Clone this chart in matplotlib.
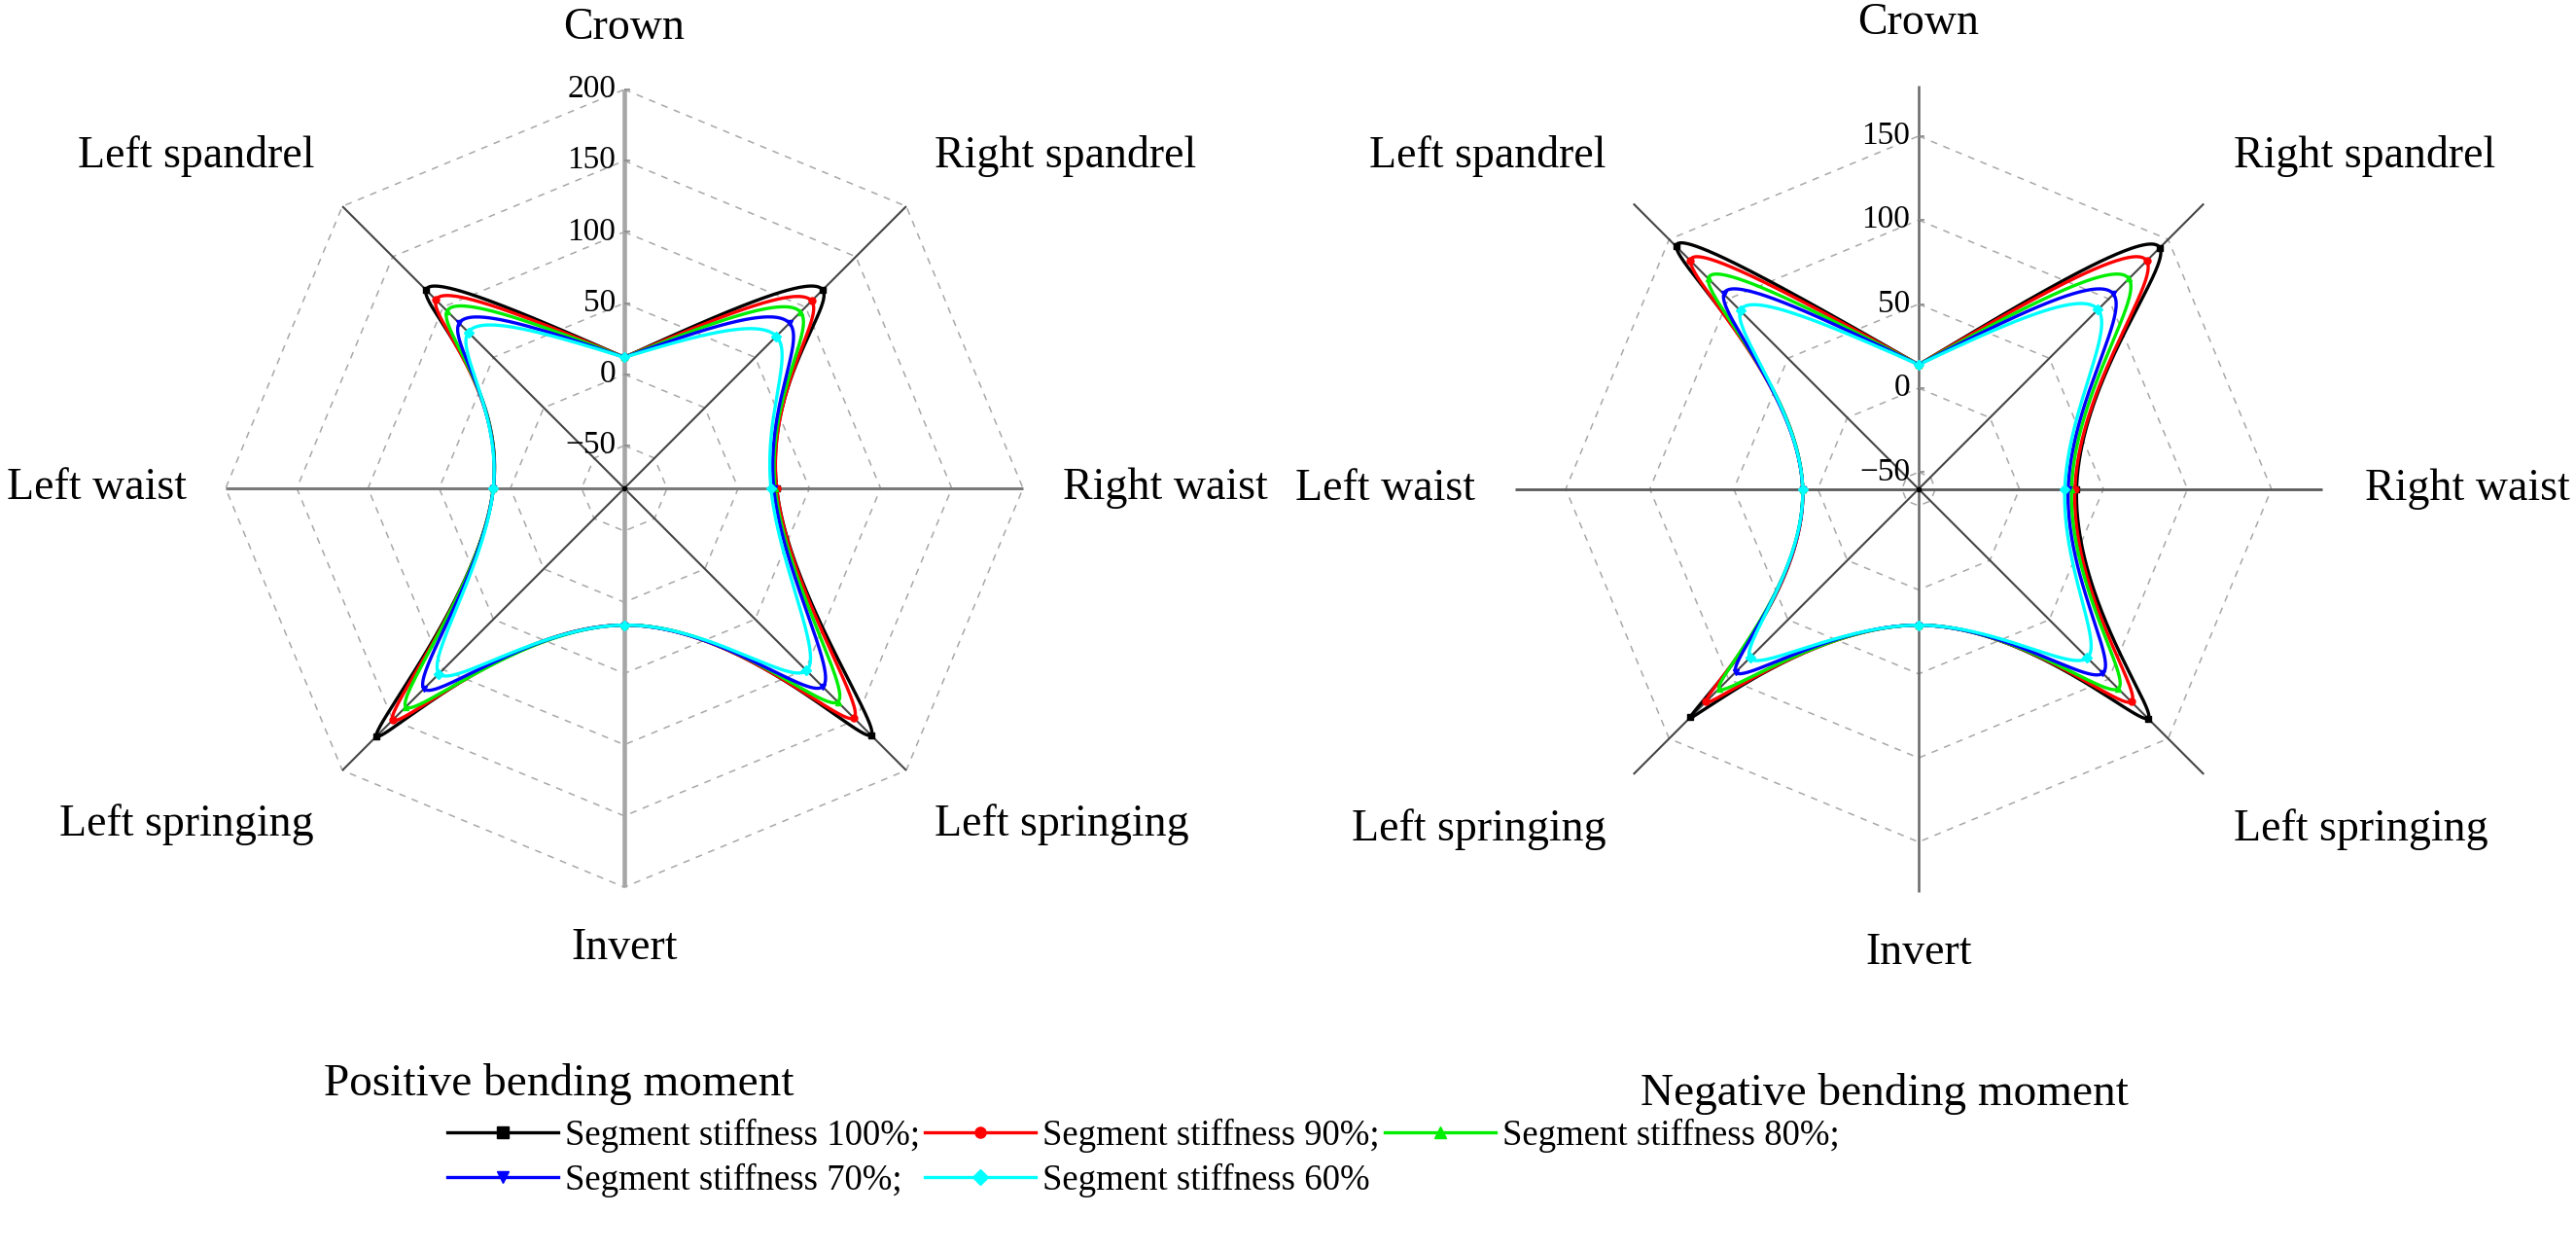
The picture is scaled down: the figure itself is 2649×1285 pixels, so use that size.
import numpy as np
import matplotlib
matplotlib.use("Agg")
import matplotlib.pyplot as plt
from matplotlib.lines import Line2D
from matplotlib.transforms import ScaledTranslation

plt.rcParams['font.family'] = ['Liberation Serif', 'DejaVu Serif']

# ---------------- data ----------------
categories = ["Crown", "Right spandrel", "Right waist", "Left springing",
              "Invert", "Left springing", "Left waist", "Left spandrel"]
angles_deg = [90, 45, 0, -45, -90, -135, 180, 135]

series_labels = ["Segment stiffness 100%;", "Segment stiffness 90%;",
                 "Segment stiffness 80%;", "Segment stiffness 70%;",
                 "Segment stiffness 60%"]
series_colors = ["#000000", "#ff0000", "#00ee00", "#0000ff", "#00ffff"]
series_markers = ["s", "o", "^", "v", "D"]

# Positive bending moment (order follows categories)
pos_100 = [12, 117, 27, 165, 16, 166, 12, 117]
pos_90 = [12, 106, 27, 148, 16, 150, 12, 107]
pos_80 = [12, 95, 26, 132, 16, 137, 12, 96]
pos_70 = [12, 84, 25, 117, 16, 119, 12, 84]
pos_60 = [12, 71, 23, 101, 16, 104, 12, 75]

# Negative bending moment
neg_100 = [14, 143, 34, 133, 21, 132, 9, 144]
neg_90 = [14, 132, 33, 119, 21, 119, 9, 132]
neg_80 = [14, 117, 31, 108, 21, 108, 9, 117]
neg_70 = [14, 104, 29, 95, 21, 94, 9, 104]
neg_60 = [14, 91, 27, 82, 21, 82, 9, 90]

pos_ticks = [-50, 0, 50, 100, 150, 200]
neg_ticks = [-50, 0, 50, 100, 150]
pos_lim = (-80, 200)
neg_lim = (-60, 180)

titles = ["Positive bending moment", "Negative bending moment"]


# ---------------- helpers ----------------
def natural_spline(vals, n_per=80):
    vals = np.asarray(vals, float)
    n = len(vals) - 1
    A = np.zeros((n + 1, n + 1))
    b = np.zeros(n + 1)
    A[0, 0] = 1
    A[n, n] = 1
    for i in range(1, n):
        A[i, i - 1] = 1
        A[i, i] = 4
        A[i, i + 1] = 1
        b[i] = 6 * (vals[i + 1] - 2 * vals[i] + vals[i - 1])
    M = np.linalg.solve(A, b)
    out = []
    for i in range(n):
        s = np.linspace(0, 1, n_per, endpoint=(i == n - 1))
        y = ((1 - s) * vals[i] + s * vals[i + 1]
             + ((1 - s) ** 3 - (1 - s)) * M[i] / 6 + (s ** 3 - s) * M[i + 1] / 6)
        out.append(y)
    return np.concatenate(out)


def smooth_polar(values, rmin):
    th = np.deg2rad(angles_deg + [angles_deg[0]])
    rr = np.asarray(values + [values[0]], float) - rmin
    x = rr * np.cos(th)
    y = rr * np.sin(th)
    xs = natural_spline(x)
    ys = natural_spline(y)
    return np.arctan2(ys, xs), np.hypot(xs, ys) + rmin


def draw_radar(ax, data, lim, ticks, axis_styles, label_pos, title, title_xy):
    rmin, rmax = lim
    ax.set_rlim(rmin, rmax)
    ax.grid(False)
    ax.set_xticks([])
    ax.set_yticks([])
    ax.spines['polar'].set_visible(False)
    ax.patch.set_visible(False)

    th = np.deg2rad(angles_deg)
    # dashed octagon grid
    for lv in ticks:
        ax.plot(np.append(th, th[0]), [lv] * (len(th) + 1), color="#a8a8a8",
                lw=1.1, dashes=(4.5, 4.5), zorder=1, clip_on=False)
    # spokes
    for k, t in enumerate(th):
        col, lw = axis_styles[k]
        ax.plot([t, t], [rmin, rmax], color=col, lw=lw, zorder=2,
                solid_capstyle='butt', clip_on=False)
    ax.plot([0], [rmin], 'o', color='k', ms=3, zorder=3)

    # radial ticks and labels along crown axis
    off = ScaledTranslation(-9 / 100, 0, ax.figure.dpi_scale_trans)
    for v in ticks:
        ax.plot([np.pi / 2], [v], marker=1, color="#888888", ms=4, mew=1.2,
                zorder=3, clip_on=False)
        ax.text(np.pi / 2, v, str(v).replace('-', '\u2212'), ha='right',
                va='center', fontsize=24, transform=ax.transData + off,
                zorder=4)

    # series
    for vals, col, mk in zip(data, series_colors, series_markers):
        tt, rr = smooth_polar(vals, rmin)
        ax.plot(tt, rr, color=col, lw=2.4, zorder=5, clip_on=False)
        ax.plot(th, vals, linestyle='none', marker=mk, color=col, ms=5,
                zorder=6, clip_on=False)

    # category labels
    for name, (x, y, ha) in zip(categories, label_pos):
        ax.text(x, y, name, transform=ax.transAxes, ha=ha, va='center',
                fontsize=33)

    ax.figure.text(title_xy[0], title_xy[1], title, ha='center', va='center',
                   fontsize=34)


# ---------------- figure ----------------
W, H = 2649, 1285
fig = plt.figure(figsize=(W / 100, H / 100), dpi=100)
fig.patch.set_facecolor('white')

ax1 = fig.add_axes([232 / W, (H - 502 - 410) / H, 820 / W, 820 / H],
                   projection='polar')
ax2 = fig.add_axes([1558.3 / W, (H - 502.7 - 414.7) / H, 829.4 / W, 829.4 / H],
                   projection='polar')

dark = ("#454545", 1.5)
left_styles = [("#a6a6a6", 3.3), dark, ("#7a7a7a", 2.2), dark,
               ("#a6a6a6", 3.3), dark, ("#7a7a7a", 2.2), dark]
right_styles = [("#666666", 1.8), dark, ("#5a5a5a", 2.0), dark,
                ("#666666", 1.8), dark, ("#5a5a5a", 2.0), dark]

left_labels = [(0.5, 1.077, 'center'), (0.889, 0.917, 'left'),
               (1.050, 0.5, 'left'), (0.889, 0.078, 'left'),
               (0.5, -0.077, 'center'), (0.111, 0.078, 'right'),
               (-0.049, 0.5, 'right'), (0.111, 0.917, 'right')]
right_labels = [(0.5, 1.077, 'center'), (0.891, 0.913, 'left'),
                (1.053, 0.5, 'left'), (0.891, 0.078, 'left'),
                (0.5, -0.075, 'center'), (0.112, 0.078, 'right'),
                (-0.05, 0.5, 'right'), (0.112, 0.913, 'right')]

draw_radar(ax1, [pos_100, pos_90, pos_80, pos_70, pos_60], pos_lim, pos_ticks,
           left_styles, left_labels, titles[0], (575 / W, 1 - 1115 / H))
draw_radar(ax2, [neg_100, neg_90, neg_80, neg_70, neg_60], neg_lim, neg_ticks,
           right_styles, right_labels, titles[1], (1938 / W, 1 - 1125 / H))

# legend (row-major order emulated for column-filled legend)
handles = [Line2D([], [], color=c, lw=2.4, marker=m, ms=8)
           for c, m in zip(series_colors, series_markers)]
order = [0, 3, 1, 4, 2]
fig.legend([handles[i] for i in order], [series_labels[i] for i in order],
           ncol=3, loc='upper left', bbox_to_anchor=(460 / W, 1 - 1150 / H),
           frameon=False, fontsize=26.5, handlelength=3.1, handletextpad=0.2,
           columnspacing=0.12, labelspacing=0.3, borderpad=0,
           borderaxespad=0)

fig.savefig("out.png", dpi=100, facecolor='white')
